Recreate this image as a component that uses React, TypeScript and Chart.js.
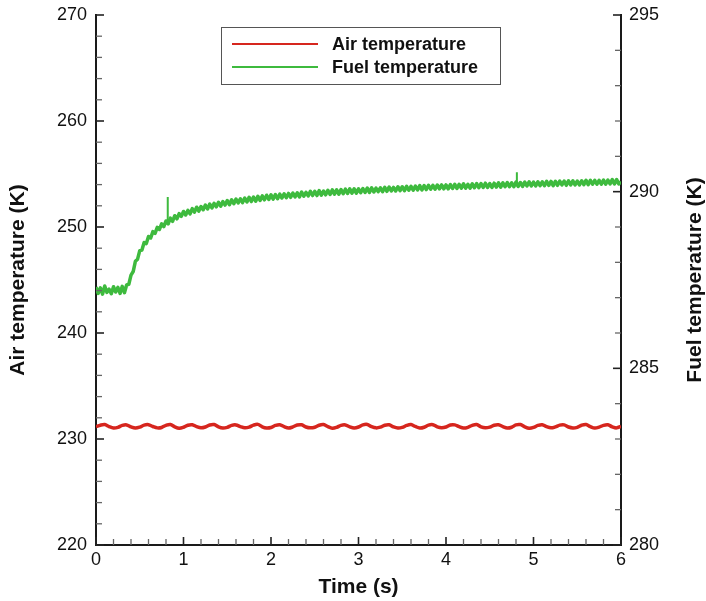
import React, { useEffect, useRef } from "react";
import { Chart, registerables } from "chart.js";

Chart.register(...registerables);

// sampling steps of the two records (s)
const AIR_STEP = 0.05;
const FUEL_STEP = 0.025;

// Air temperature (K), left axis, t = 0 .. 6 s
const airTemperature = [
  231.15, 231.30, 231.36, 231.17, 231.04,
  231.10, 231.28, 231.33, 231.14, 231.03,
  231.12, 231.31, 231.35, 231.18, 231.05,
  231.09, 231.29, 231.37, 231.15, 231.02,
  231.11, 231.30, 231.34, 231.16, 231.05,
  231.13, 231.32, 231.36, 231.14, 231.03,
  231.10, 231.29, 231.33, 231.17, 231.06,
  231.12, 231.31, 231.38, 231.15, 231.04,
  231.09, 231.28, 231.35, 231.16, 231.03,
  231.14, 231.32, 231.34, 231.13, 231.05,
  231.11, 231.30, 231.36, 231.17, 231.02,
  231.10, 231.29, 231.33, 231.15, 231.04,
  231.13, 231.33, 231.37, 231.16, 231.05,
  231.12, 231.30, 231.34, 231.14, 231.03,
  231.09, 231.28, 231.36, 231.18, 231.04,
  231.11, 231.31, 231.35, 231.15, 231.06,
  231.13, 231.32, 231.33, 231.16, 231.03,
  231.10, 231.29, 231.37, 231.14, 231.05,
  231.12, 231.30, 231.34, 231.17, 231.04,
  231.11, 231.33, 231.36, 231.15, 231.02,
  231.09, 231.28, 231.35, 231.16, 231.05,
  231.14, 231.31, 231.33, 231.13, 231.04,
  231.10, 231.30, 231.37, 231.17, 231.03,
  231.12, 231.29, 231.34, 231.15, 231.05,
  231.20,
];

// Fuel temperature (K), right axis, t = 0 .. 6 s
const fuelTemperature = [
  287.30, 287.12, 287.28, 287.10, 287.33, 287.15, 287.24, 287.11, 287.31, 287.16,
  287.29, 287.12, 287.32, 287.14, 287.36, 287.38, 287.64, 287.74, 288.03, 288.09,
  288.33, 288.35, 288.56, 288.53, 288.73, 288.69, 288.87, 288.82, 288.99, 288.93,
  289.09, 289.01, 289.17, 289.09, 289.25, 289.16, 289.32, 289.23, 289.38, 289.30,
  289.44, 289.34, 289.47, 289.37, 289.52, 289.42, 289.56, 289.45, 289.58, 289.49,
  289.62, 289.51, 289.65, 289.54, 289.67, 289.57, 289.70, 289.59, 289.72, 289.62,
  289.75, 289.63, 289.77, 289.66, 289.79, 289.68, 289.80, 289.69, 289.82, 289.71,
  289.84, 289.72, 289.85, 289.73, 289.87, 289.75, 289.88, 289.77, 289.90, 289.78,
  289.91, 289.79, 289.92, 289.80, 289.93, 289.82, 289.94, 289.83, 289.95, 289.84,
  289.96, 289.85, 289.97, 289.85, 289.99, 289.87, 289.98, 289.88, 290.01, 289.89,
  290.01, 289.89, 290.03, 289.90, 290.02, 289.91, 290.04, 289.92, 290.05, 289.93,
  290.05, 289.93, 290.06, 289.94, 290.07, 289.95, 290.08, 289.96, 290.08, 289.96,
  290.08, 289.97, 290.09, 289.98, 290.10, 289.98, 290.11, 289.99, 290.10, 290.00,
  290.11, 290.00, 290.12, 290.01, 290.13, 290.02, 290.12, 290.02, 290.14, 290.03,
  290.14, 290.03, 290.15, 290.04, 290.15, 290.04, 290.16, 290.05, 290.17, 290.05,
  290.17, 290.06, 290.18, 290.07, 290.18, 290.07, 290.19, 290.08, 290.19, 290.08,
  290.19, 290.08, 290.20, 290.09, 290.21, 290.09, 290.21, 290.10, 290.22, 290.10,
  290.21, 290.10, 290.22, 290.11, 290.23, 290.11, 290.23, 290.12, 290.24, 290.12,
  290.23, 290.12, 290.24, 290.13, 290.25, 290.13, 290.25, 290.14, 290.26, 290.14,
  290.25, 290.14, 290.27, 290.15, 290.26, 290.15, 290.27, 290.16, 290.28, 290.16,
  290.27, 290.16, 290.28, 290.17, 290.28, 290.17, 290.29, 290.18, 290.29, 290.17,
  290.29, 290.18, 290.30, 290.19, 290.30, 290.18, 290.31, 290.19, 290.31, 290.19,
  290.30, 290.19, 290.31, 290.20, 290.32, 290.20, 290.32, 290.21, 290.32, 290.21,
  290.32, 290.21, 290.33, 290.21, 290.33, 290.22, 290.34, 290.22, 290.34, 290.22,
  290.28,
];

// isolated spikes in the fuel record
const fuelSpikeTimes = [0.82, 4.81];
const fuelSpikeBase = [289.12, 290.15];
const fuelSpikePeak = [289.85, 290.55];

const seriesLabels = ["Air temperature", "Fuel temperature"];
const airAxis = { min: 220, max: 270, major: 10, minor: 2 };
const fuelAxis = { min: 280, max: 295, major: 5, minor: 1 };
const timeAxis = { min: 0, max: 6, major: 1, minor: 0.2 };
const axisTitles = { x: "Time (s)", left: "Air temperature (K)", right: "Fuel temperature (K)" };

const RED = "rgb(214,38,30)";
const GREEN = "rgb(62,186,62)";
const FONT = "'Liberation Sans', Arial, Helvetica, sans-serif";

const decorPlugin = {
  id: "decor",
  afterDraw(chart: any) {
    const ctx = chart.ctx as CanvasRenderingContext2D;
    const area = chart.chartArea;
    const xs = chart.scales.x;
    const yl = chart.scales.y;
    const yr = chart.scales.y1;
    ctx.save();
    const drawTicks = (
      cfg: { min: number; max: number; major: number; minor: number },
      scale: any,
      side: "left" | "right" | "bottom"
    ) => {
      const n = Math.round((cfg.max - cfg.min) / cfg.minor);
      const perMajor = Math.round(cfg.major / cfg.minor);
      for (let i = 0; i <= n; i++) {
        const v = cfg.min + i * cfg.minor;
        const isMajor = i % perMajor === 0;
        const len = isMajor ? 8 : 6;
        const p = scale.getPixelForValue(v);
        ctx.beginPath();
        ctx.strokeStyle = isMajor ? "#222" : "#666";
        ctx.lineWidth = isMajor ? 1.6 : 1.3;
        if (side === "left") {
          ctx.moveTo(area.left, p);
          ctx.lineTo(area.left + len, p);
        } else if (side === "right") {
          ctx.moveTo(area.right, p);
          ctx.lineTo(area.right - len, p);
        } else {
          ctx.moveTo(p, area.bottom);
          ctx.lineTo(p, area.bottom - len);
        }
        ctx.stroke();
      }
    };
    drawTicks(airAxis, yl, "left");
    drawTicks(fuelAxis, yr, "right");
    drawTicks(timeAxis, xs, "bottom");

    ctx.fillStyle = "#111";
    ctx.font = `bold 21px ${FONT}`;
    ctx.textAlign = "center";
    ctx.textBaseline = "middle";
    ctx.fillText(axisTitles.x, (area.left + area.right) / 2, 587);
    ctx.save();
    ctx.translate(18, (area.top + area.bottom) / 2);
    ctx.rotate(-Math.PI / 2);
    ctx.fillText(axisTitles.left, 0, 0);
    ctx.restore();
    ctx.save();
    ctx.translate(695, (area.top + area.bottom) / 2);
    ctx.rotate(-Math.PI / 2);
    ctx.fillText(axisTitles.right, 0, 0);
    ctx.restore();

    const bx = 221, by = 27, bw = 279, bh = 57;
    ctx.fillStyle = "#fff";
    ctx.fillRect(bx, by, bw, bh);
    ctx.strokeStyle = "#555";
    ctx.lineWidth = 1;
    ctx.strokeRect(bx + 0.5, by + 0.5, bw, bh);
    const colors = [RED, GREEN];
    const rows = [44, 67];
    ctx.font = `bold 18px ${FONT}`;
    ctx.textAlign = "left";
    ctx.textBaseline = "middle";
    for (let i = 0; i < 2; i++) {
      const ds = chart.data.datasets[i];
      ctx.beginPath();
      ctx.strokeStyle = colors[i];
      ctx.lineWidth = 2;
      ctx.moveTo(232, rows[i]);
      ctx.lineTo(318, rows[i]);
      ctx.stroke();
      ctx.fillStyle = "#111";
      ctx.fillText(ds.label, 332, rows[i] + 1);
    }
    ctx.restore();
  },
};

export default function App() {
  const canvasRef = useRef<HTMLCanvasElement | null>(null);

  useEffect(() => {
    document.body.style.margin = "0";
    const canvas = canvasRef.current;
    if (!canvas) return;

    const airPoints = airTemperature.map((v, i) => ({ x: i * AIR_STEP, y: v }));
    const fuelPoints = fuelTemperature.map((v, i) => ({ x: i * FUEL_STEP, y: v }));
    const spikePoints: { x: number; y: number | null }[] = [];
    fuelSpikeTimes.forEach((t, i) => {
      spikePoints.push({ x: t, y: fuelSpikeBase[i] });
      spikePoints.push({ x: t, y: fuelSpikePeak[i] });
      spikePoints.push({ x: t, y: null });
    });

    const tickFont = { family: FONT, size: 18 };
    const noVPad = (s: any, w: number) => {
      s.width = w;
      s.paddingTop = 0;
      s.paddingBottom = 0;
    };

    const chart = new Chart(canvas, {
      type: "line",
      data: {
        datasets: [
          {
            label: seriesLabels[0],
            data: airPoints,
            borderColor: RED,
            backgroundColor: RED,
            borderWidth: 3.5,
            borderJoinStyle: "round",
            pointRadius: 0,
            tension: 0.35,
            yAxisID: "y",
          },
          {
            label: seriesLabels[1],
            data: fuelPoints,
            borderColor: GREEN,
            backgroundColor: GREEN,
            borderWidth: 3.5,
            borderJoinStyle: "round",
            pointRadius: 0,
            tension: 0,
            yAxisID: "y1",
          },
          {
            label: "spikes",
            data: spikePoints as any,
            borderColor: GREEN,
            borderWidth: 2,
            pointRadius: 0,
            spanGaps: false,
            yAxisID: "y1",
          },
        ],
      },
      options: {
        animation: false,
        responsive: false,
        maintainAspectRatio: false,
        layout: { padding: { top: 15, left: 0, right: 0, bottom: 0 } },
        plugins: { legend: { display: false }, tooltip: { enabled: false } },
        scales: {
          x: {
            type: "linear",
            min: timeAxis.min,
            max: timeAxis.max,
            grid: { display: false, drawTicks: false },
            border: { display: true, color: "#1a1a1a", width: 2 },
            ticks: { stepSize: timeAxis.major, font: tickFont, color: "#111", padding: 4, maxRotation: 0 },
            afterFit: (s: any) => { s.height = 56; s.paddingLeft = 0; s.paddingRight = 0; },
          },
          y: {
            type: "linear",
            position: "left",
            min: airAxis.min,
            max: airAxis.max,
            grid: { display: false, drawTicks: false },
            border: { display: true, color: "#1a1a1a", width: 2 },
            ticks: { stepSize: airAxis.major, font: tickFont, color: "#111", padding: 9 },
            afterFit: (s: any) => noVPad(s, 96),
          },
          y1: {
            type: "linear",
            position: "right",
            min: fuelAxis.min,
            max: fuelAxis.max,
            grid: { display: false, drawTicks: false },
            border: { display: true, color: "#1a1a1a", width: 2 },
            ticks: { stepSize: fuelAxis.major, font: tickFont, color: "#111", padding: 8 },
            afterFit: (s: any) => noVPad(s, 85),
          },
        },
      },
      plugins: [decorPlugin],
    });

    return () => chart.destroy();
  }, []);

  return (
    <div style={{ width: 706, height: 601, background: "#fff" }}>
      <canvas ref={canvasRef} width={706} height={601} style={{ display: "block" }} />
    </div>
  );
}
